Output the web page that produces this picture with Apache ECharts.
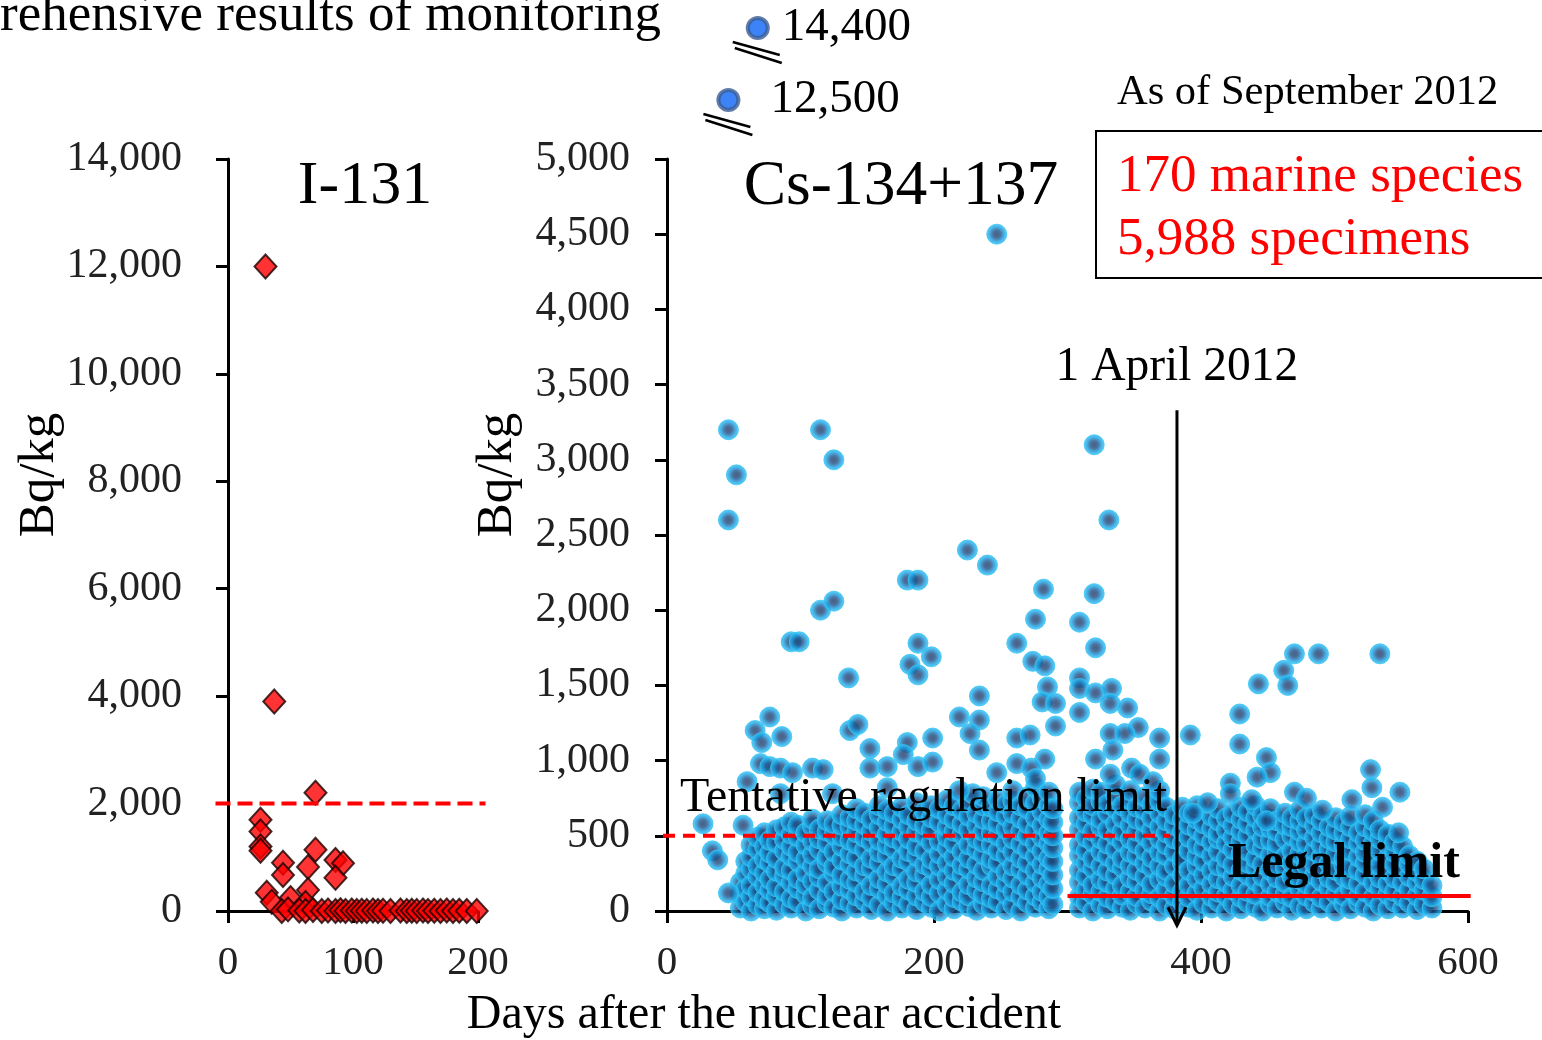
<!DOCTYPE html>
<html><head><meta charset="utf-8">
<script src="https://cdn.jsdelivr.net/npm/echarts@6/dist/echarts.min.js"></script>
<style>html,body{margin:0;padding:0;background:#fff}#c{width:1542px;height:1040px}</style>
</head><body><div id="c"></div>
<script>
const FONT = '"Liberation Serif","Times New Roman",serif';

// ---------- data ----------
const i131Limit = 2000;      // Bq/kg, tentative limit for I-131
const csTentativeLimit = 500; // Bq/kg
const csLegalLimit = 100;     // Bq/kg
const april1Day = 382;        // days after accident

// I-131 measurements [day, Bq/kg]
const i131Points = [
  [30,12000],[37,3900],[70,2200],[26,1700],[26,1480],[26,1200],[26,1120],
  [44,900],[44,670],[70,1140],[64,820],[86,950],[92,890],[86,620],
  [31,340],[35,170],[50,240],[64,390],[62,150],[43,0],[48,30],
  [57,10],[62,0],[68,20],[75,0],[80,10],[86,0],[90,15],[94,0],[99,10],
  [103,0],[107,5],[111,0],[116,10],[120,0],[124,5],[130,0],[138,10],
  [143,0],[147,5],[151,0],[156,10],[160,0],[165,5],[170,0],[175,10],
  [180,0],[185,5],[191,0],[199,0]
];

// Cs-134+137 scattered (readable) measurements [day, Bq/kg]
const csSparse = [
  [46,3200],[52,2900],[46,2600],[115,3200],[125,3000],[115,2000],[125,2060],
  [136,1550],[225,2400],[240,2300],[247,4500],[180,2200],[188,2200],[188,1780],
  [182,1640],[188,1570],[198,1690],[93,1790],[99,1790],
  [320,3100],[331,2600],[320,2110],[282,2140],[276,1940],[309,1920],[262,1780],
  [321,1750],[274,1660],[283,1630],[309,1550],[285,1490],[309,1480],[321,1450],
  [333,1480],[234,1430],[281,1390],[291,1380],[309,1320],[332,1380],[345,1350],
  [219,1290],[234,1270],[227,1180],[291,1230],[234,1070],[262,1150],[272,1170],
  [332,1180],[353,1220],[343,1180],[369,1150],[369,1010],[283,1010],[262,980],
  [273,950],[247,920],[321,1010],[334,1070],[348,950],[332,910],[354,910],
  [276,880],[364,860],[229,780],[219,800],
  [77,1290],[66,1200],[86,1160],[71,1120],[137,1200],[143,1240],[152,1080],
  [180,1120],[199,1150],[152,950],[165,960],[177,1040],[188,960],[199,990],
  [70,980],[77,960],[85,950],[94,920],[109,950],[117,940],[60,860],
  [27,580],[34,400],[38,340],[57,570],[46,120],[165,820],[124,780],[85,780],
  [470,1710],[488,1710],[534,1710],[462,1600],[465,1500],[443,1510],[429,1310],
  [392,1170],[429,1110],[449,1020],[452,920],[442,890],[527,940],[528,820],
  [549,790],[422,850],[422,780],[470,790],[479,750],[513,740],[536,690],
  [405,720],[438,740],[491,670],[548,520],[449,600],[394,650]
];

// dense cloud before ~day 290: [day, [values...]]
const csCloudEarly = [
  [55,[20,110,190]],
  [59,[60,150,250,330]],
  [63,[0,95,170,280,360,440]],
  [68,[40,125,230,300,410,490]],
  [73,[15,80,175,255,345,430,520]],
  [77,[55,140,210,320,385,470]],
  [82,[5,100,160,265,350,455,540]],
  [88,[45,130,235,290,400,475,560]],
  [93,[20,85,190,270,365,430,510,590]],
  [98,[60,150,215,330,390,495,570]],
  [104,[0,110,175,255,345,440,520]],
  [109,[35,90,200,300,375,465,560,610]],
  [114,[15,140,225,280,410,480,545]],
  [120,[55,100,185,320,360,450,530,600]],
  [125,[25,130,250,295,395,505,580]],
  [131,[0,75,165,240,340,430,495,570,640]],
  [137,[50,145,210,310,380,470,560,620]],
  [142,[20,100,190,265,355,445,520,600,680]],
  [148,[65,130,240,300,410,490,575,650]],
  [153,[10,90,170,285,350,460,530,610]],
  [159,[40,150,215,320,390,470,555,640,700]],
  [165,[0,105,180,260,370,440,510,595,670]],
  [170,[55,120,235,300,415,485,570,650]],
  [176,[20,90,165,280,350,455,530,610,690]],
  [181,[45,140,210,330,395,480,560,640]],
  [187,[10,100,190,260,365,430,525,600,720]],
  [193,[60,130,240,310,400,500,570,660]],
  [198,[25,95,175,285,345,455,540,620,700]],
  [204,[0,120,210,300,380,465,590,680]],
  [210,[50,140,230,320,420,490,560,640,740]],
  [215,[15,90,185,270,360,450,530,610,700]],
  [221,[65,125,240,305,395,510,580,670]],
  [226,[30,100,175,280,350,440,540,630,720]],
  [232,[5,140,220,310,410,480,570,650]],
  [237,[45,110,195,270,375,455,530,610,700,760]],
  [243,[20,85,170,300,345,440,520,600,690]],
  [248,[60,145,230,320,400,500,580,660,740]],
  [254,[10,110,185,260,370,450,545,630,710]],
  [259,[40,130,220,300,395,480,560,650,730,800]],
  [265,[0,95,175,280,350,445,530,615,700]],
  [270,[55,140,240,320,410,500,580,680,760]],
  [276,[25,100,190,270,365,450,540,620,720,820]],
  [281,[60,130,220,310,400,490,570,660,750]],
  [286,[15,95,180,280,350,450,520,610,700,790]],
  [289,[45,150,240,330,420,500,590,680]]
];

// dense cloud after ~day 305
const csCloudLate = [
  [309,[20,95,190,270,370,440,540,620,720,790]],
  [314,[55,140,230,320,400,490,580,660,750]],
  [319,[0,110,175,285,350,460,530,640,700,810]],
  [325,[40,130,210,300,395,480,560,610,730,790]],
  [330,[15,90,190,265,365,445,540,650,710]],
  [336,[60,150,240,320,410,500,580,680,770,840]],
  [341,[25,105,170,290,350,460,530,620,700]],
  [347,[5,130,220,300,390,480,570,650,740,800]],
  [352,[50,95,195,270,370,445,530,610,690]],
  [358,[20,140,230,320,400,500,590,670,760]],
  [363,[65,115,180,290,355,455,540,620,710]],
  [369,[0,90,210,300,390,480,560,650,730,800]],
  [374,[40,145,230,270,370,440,520,600,690]],
  [380,[15,100,185,300,395,480,570,640]],
  [386,[60,130,240,320,350,450,530,610,690]],
  [391,[25,90,170,270,400,490,570,650]],
  [397,[5,120,215,300,365,440,540,610,700]],
  [402,[50,150,240,330,420,500,580]],
  [408,[20,95,180,270,370,460,550,630]],
  [413,[60,125,215,300,395,480,520,600,680]],
  [419,[0,100,190,285,350,450,540,620]],
  [424,[45,140,230,310,410,490,570,650]],
  [430,[15,90,170,270,380,460,530,610,690]],
  [435,[55,130,240,320,400,500,580,660]],
  [441,[25,110,200,290,350,440,540,620,700]],
  [446,[0,150,230,310,420,480,560,640]],
  [452,[45,95,180,270,370,470,550,610,680]],
  [457,[20,130,220,300,390,450,530,600]],
  [463,[60,110,190,290,360,480,570,650]],
  [468,[5,90,230,320,400,500,560,620]],
  [474,[35,145,210,280,380,460,530,600,670]],
  [479,[15,100,180,300,370,450,540,620]],
  [485,[55,130,240,310,400,490,570,640]],
  [490,[20,90,200,280,360,440,520,600]],
  [496,[60,150,220,320,410,480,560]],
  [501,[0,115,190,270,380,460,540,620]],
  [507,[45,100,230,300,350,440,520,590]],
  [512,[15,140,210,290,400,480,560,630]],
  [518,[55,95,180,270,360,450,520]],
  [523,[25,130,240,320,390,470,560,640]],
  [529,[0,90,190,280,370,450,530,600]],
  [534,[40,150,220,300,400,480,540]],
  [540,[15,110,180,270,350,440,510]],
  [545,[60,130,220,310,390,460]],
  [551,[20,95,190,280,360,430]],
  [556,[55,140,230,310,370]],
  [562,[10,100,190,260,330]],
  [567,[45,140,210,280]],
  [573,[20,95,170]]
];

// off-scale Cs values shown above the axis
const csOffScale = [[68,14400],[46,12500]];
const csOffScaleLabels = ['14,400','12,500'];

// ---------- build ----------
function expand(cols){ const out=[]; cols.forEach(c=>c[1].forEach(v=>out.push([c[0],v]))); return out; }
const csAll = expand(csCloudEarly).concat(expand(csCloudLate)).concat(csSparse);

const chart = echarts.init(document.getElementById('c'), null, {renderer:'canvas'});

const axisLineStyle = {show:true, lineStyle:{color:'#000', width:3}};
const axisTickStyle = {show:true, inside:false, length:12, lineStyle:{color:'#000', width:3}};
const fmt = v => v.toLocaleString('en-US');

const csMarker = {
  color:{type:'radial', x:0.5, y:0.5, r:0.5, colorStops:[
    {offset:0, color:'#1c3863'},{offset:0.35, color:'#1e4d84'},{offset:0.7, color:'#199ee0'},{offset:1, color:'#36c9f8'}]},
  borderColor:'#33c4f5', borderWidth:1
};

chart.setOption({
  animation:false,
  backgroundColor:'#fff',
  grid:[
    {left:228, top:159, width:250, height:752},
    {left:667, top:159, width:801, height:752},
    {left:667, top:5.3, width:801, height:113.6}
  ],
  xAxis:[
    {gridIndex:0, type:'value', min:0, max:200, interval:100,
     axisLine:axisLineStyle, axisTick:axisTickStyle, splitLine:{show:false},
     axisLabel:{fontFamily:FONT, fontSize:41, color:'#222', margin:32}},
    {gridIndex:1, type:'value', min:0, max:600, interval:200,
     axisLine:axisLineStyle, axisTick:axisTickStyle, splitLine:{show:false},
     axisLabel:{fontFamily:FONT, fontSize:41, color:'#222', margin:32}},
    {gridIndex:2, type:'value', min:0, max:600, show:false}
  ],
  yAxis:[
    {gridIndex:0, type:'value', min:0, max:14000, interval:2000,
     axisLine:axisLineStyle, axisTick:axisTickStyle, splitLine:{show:false},
     axisLabel:{fontFamily:FONT, fontSize:42, color:'#222', margin:46, formatter:fmt}},
    {gridIndex:1, type:'value', min:0, max:5000, interval:500,
     axisLine:axisLineStyle, axisTick:axisTickStyle, splitLine:{show:false},
     axisLabel:{fontFamily:FONT, fontSize:42, color:'#222', margin:37, formatter:fmt}},
    {gridIndex:2, type:'value', min:12000, max:15000, show:false}
  ],
  series:[
    {type:'scatter', xAxisIndex:1, yAxisIndex:1, data:csAll, symbol:'circle', symbolSize:20,
     itemStyle:csMarker, clip:false, z:2},
    {type:'scatter', xAxisIndex:0, yAxisIndex:0, data:i131Points, symbol:'diamond', symbolSize:[22,24],
     itemStyle:{color:'#ff0000', borderColor:'#1a0000', borderWidth:2}, clip:false, z:3},
    {type:'scatter', xAxisIndex:2, yAxisIndex:2,
     data:csOffScale.map((d,i)=>({value:d, label:{distance: i===0 ? 12 : 30}})),
     symbol:'circle', symbolSize:20,
     itemStyle:{color:'#0a64f5', borderColor:'#3a5b92', borderWidth:4}, clip:false, z:3,
     label:{show:true, position:'right', fontFamily:FONT, fontSize:47, color:'#000', opacity:1,
            formatter:p=>csOffScaleLabels[p.dataIndex]}}
  ]
});

// ---------- annotations (positions from scales) ----------
const P = (g, pt) => chart.convertToPixel({gridIndex:g}, pt);
const t0 = P(0,[-10,i131Limit]), t1 = P(0,[206,i131Limit]);
const c0 = P(1,[-3,csTentativeLimit]), c1 = P(1,[377,csTentativeLimit]);
const l0 = P(1,[300,csLegalLimit]), l1 = P(1,[602,csLegalLimit]);
const aTop = P(1,[april1Day,3330]), aBot = P(1,[april1Day,-95]);

const o1 = P(2, csOffScale[0]), o2 = P(2, csOffScale[1]);

function breakMarks(c){
  return [
    {type:'line', shape:{x1:c[0]-25,y1:c[1]+14,x2:c[0]+22,y2:c[1]+27}, style:{stroke:'#000',lineWidth:2.5}, z:100},
    {type:'line', shape:{x1:c[0]-23,y1:c[1]+20,x2:c[0]+24,y2:c[1]+35}, style:{stroke:'#000',lineWidth:2.5}, z:100}
  ];
}

const txt = (x,y,text,opt) => Object.assign({type:'text', x:x, y:y, z:100,
  style:Object.assign({text:text, fontFamily:FONT, fontSize:40, fill:'#000', align:'left', verticalAlign:'middle'}, opt||{})});

chart.setOption({
  graphic:[
    {type:'line', shape:{x1:t0[0],y1:t0[1],x2:t1[0],y2:t1[1]}, style:{stroke:'#ff0000',lineWidth:4,lineDash:[15,7]}, z:90},
    {type:'line', shape:{x1:c0[0],y1:c0[1],x2:c1[0],y2:c1[1]}, style:{stroke:'#ff0000',lineWidth:4,lineDash:[12,8]}, z:90},
    {type:'line', shape:{x1:l0[0],y1:l0[1],x2:l1[0],y2:l1[1]}, style:{stroke:'#ff0000',lineWidth:4}, z:90},
    {type:'line', shape:{x1:aTop[0],y1:aTop[1],x2:aBot[0],y2:aBot[1]}, style:{stroke:'#000',lineWidth:3}, z:95},
    {type:'polyline', shape:{points:[[aBot[0]-9,aBot[1]-18],[aBot[0],aBot[1]],[aBot[0]+9,aBot[1]-18]]}, style:{stroke:'#000',lineWidth:3,fill:null}, z:95},
    ...breakMarks(o1), ...breakMarks(o2),
    {type:'rect', shape:{x:1096,y:131,width:460,height:147}, style:{fill:null, stroke:'#000', lineWidth:2}, z:90},
    txt(0, 16, 'rehensive results of monitoring', {fontSize:53}),
    txt(365, 187, 'I-131', {fontSize:62, align:'center'}),
    txt(901, 187, 'Cs-134+137', {fontSize:63.5, align:'center'}),
    txt(1117, 93, 'As of September 2012', {fontSize:42.5}),
    txt(1117, 177, '170 marine species', {fontSize:53, fill:'#ff0000'}),
    txt(1117, 240, '5,988 specimens', {fontSize:53, fill:'#ff0000'}),
    txt(aTop[0], 368, '1 April 2012', {fontSize:47.5, align:'center'}),
    txt(680, 798, 'Tentative regulation limit', {fontSize:48}),
    txt(1228, 864, 'Legal limit', {fontSize:50, fontWeight:'bold'}),
    txt(764, 1015, 'Days after the nuclear accident', {fontSize:48, align:'center'}),
    {type:'text', x:40, y:475, rotation:Math.PI/2, z:100,
     style:{text:'Bq/kg', fontFamily:FONT, fontSize:51, fill:'#000', align:'center', verticalAlign:'middle'}},
    {type:'text', x:498, y:475, rotation:Math.PI/2, z:100,
     style:{text:'Bq/kg', fontFamily:FONT, fontSize:51, fill:'#000', align:'center', verticalAlign:'middle'}}
  ]
});
</script></body></html>
